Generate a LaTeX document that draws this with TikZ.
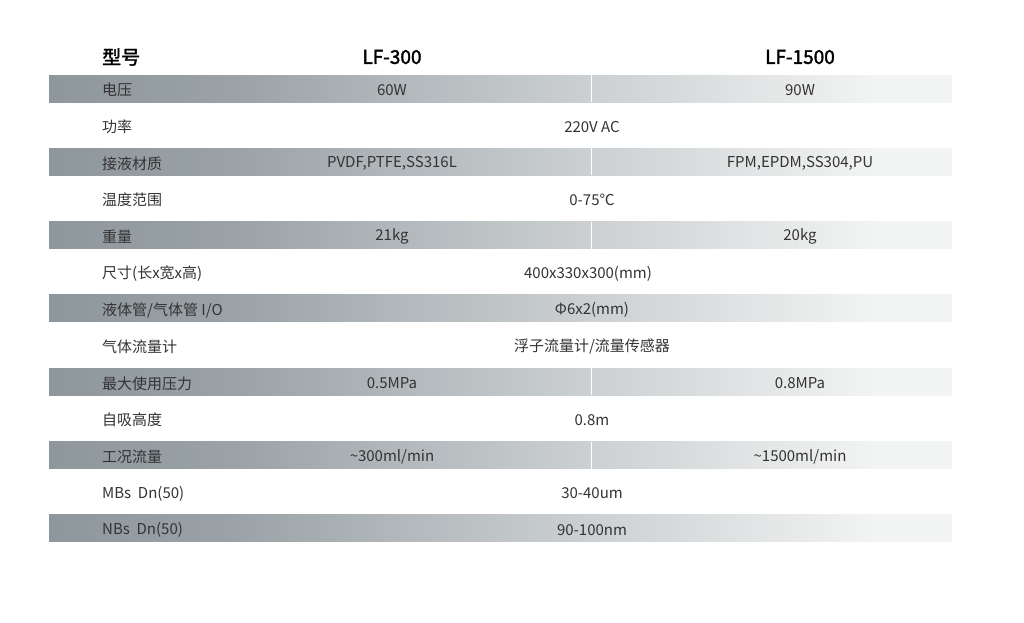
\documentclass[tikz,border=0pt]{standalone}
\usepackage{fontspec}
\setmainfont{Noto Sans CJK SC}
\newfontfamily\headfont{Noto Sans CJK SC}[FakeBold=2]
\usetikzlibrary{positioning}

\definecolor{banddark}{HTML}{8E979C}
\definecolor{bandmid}{HTML}{9AA2A7}
\definecolor{bandlight}{HTML}{CCD0D2}
\definecolor{bandpale}{HTML}{F3F4F4}
\definecolor{txtgray}{HTML}{333333}
\pgfdeclarehorizontalshading{bandshade}{100bp}{color(0bp)=(banddark); color(25bp)=(banddark); color(35bp)=(bandmid); color(55bp)=(bandlight); color(71bp)=(bandpale); color(100bp)=(bandpale)}

\begin{document}
\begin{tikzpicture}[x=1pt,y=-1pt,
    lbl/.style={anchor=west, inner sep=0pt, text=txtgray, font=\fontsize{15pt}{17pt}\selectfont},
    val/.style={inner sep=0pt, text=txtgray, font=\fontsize{15pt}{17pt}\selectfont},
    head/.style={inner sep=0pt, font=\fontsize{19pt}{21pt}\headfont}]
\useasboundingbox (0,0) rectangle (1024,622);

% bands
\foreach \k in {0,...,6}
  \shade[shading=bandshade] (49,{75+73.33*\k}) rectangle (952,{102+73.33*\k});
\foreach \k in {0,1,2,4,5}
  \draw[white, line width=1pt] (591.5,{75+73.33*\k}) -- (591.5,{102+73.33*\k});

% header
\node[head, anchor=west] (model) at (102,57) {型号};
\node[head] (lfa) at (392,57) {LF-300};
\node[head] (lfb) at (800,57) {LF-1500};

% row labels
\foreach \i/\txt in {0/电压, 1/功率, 2/接液材质, 3/温度范围, 4/重量, 5/{尺寸(长x宽x高)},
    6/{液体管/气体管 I/O}, 7/气体流量计, 8/最大使用压力, 9/自吸高度, 10/工况流量,
    11/{MBs\ \ Dn(50)}, 12/{NBs\ \ Dn(50)}}
  \node[lbl] (l\i) at (102,{90+36.67*\i}) {\txt};

% values
\node[val] (a0) at (392,90) {60W};
\node[val] (b0) at (800,90) {90W};
\node[val] (c1) at (592,126.7) {220V AC};
\node[val] (a2) at (392,163.3) {PVDF,PTFE,SS316L};
\node[val] (b2) at (800,163.3) {FPM,EPDM,SS304,PU};
\node[val] (c3) at (592,200) {0-75℃};
\node[val] (a4) at (392,236.7) {21kg};
\node[val] (b4) at (800,236.7) {20kg};
\node[val] (c5) at (588,273.4) {400x330x300(mm)};
\node[val] (c6) at (592,310) {Φ6x2(mm)};
\node[val] (c7) at (592,346.7) {浮子流量计/流量传感器};
\node[val] (a8) at (392,383.4) {0.5MPa};
\node[val] (b8) at (800,383.4) {0.8MPa};
\node[val] (c9) at (592,420) {0.8m};
\node[val] (a10) at (392,456.7) {\textasciitilde300ml/min};
\node[val] (b10) at (800,456.7) {\textasciitilde1500ml/min};
\node[val] (c11) at (592,493.4) {30-40um};
\node[val] (c12) at (592,530) {90-100nm};

\end{tikzpicture}
\end{document}
